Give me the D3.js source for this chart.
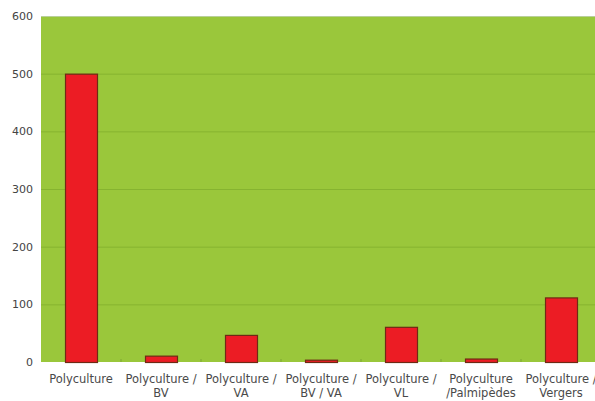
<!DOCTYPE html>
<html>
<head>
<meta charset="utf-8">
<script src="https://cdn.jsdelivr.net/npm/d3@7"></script>
<style>
  body { margin: 0; background: #fff; }
  .tick text { font-family: "DejaVu Sans", Verdana, sans-serif; fill: #444; }
</style>
</head>
<body>
<svg id="chart" width="595" height="401"></svg>
<script>
const categories = [
    ["Polyculture"],
    ["Polyculture /", "BV"],
    ["Polyculture /", "VA"],
    ["Polyculture /", "BV / VA"],
    ["Polyculture /", "VL"],
    ["Polyculture", "/Palmipèdes"],
    ["Polyculture /", "Vergers"]
];
const values = [500, 11, 47, 4, 61, 6, 112];
const yTicks = [0, 100, 200, 300, 400, 500, 600];

const margin = {top: 16, left: 41};
const width = 560, height = 346;

const svg = d3.select("#chart");
const g = svg.append("g").attr("transform", "translate(" + margin.left + "," + margin.top + ")");

const x = d3.scaleBand().domain(d3.range(categories.length)).range([0, width]).paddingInner(0.6).paddingOuter(0.3);
const xb = d3.scaleBand().domain(d3.range(categories.length)).range([0, width]);
const y = d3.scaleLinear().domain([0, 600]).range([height, 0]);

// plot background
g.append("rect")
    .attr("width", width)
    .attr("height", height)
    .attr("fill", "#9ac73b");

// horizontal grid
g.selectAll(".grid")
    .data(yTicks.slice(1))
    .enter().append("line")
    .attr("x1", 0).attr("x2", width)
    .attr("y1", d => y(d) + 0.5).attr("y2", d => y(d) + 0.5)
    .attr("stroke", "#86b330")
    .attr("stroke-width", 1);

// top edge shade
g.append("line")
    .attr("x1", 0).attr("x2", width)
    .attr("y1", 0.5).attr("y2", 0.5)
    .attr("stroke", "#b9cf9a");

// category boundary ticks
g.selectAll(".ctick")
    .data(d3.range(1, categories.length))
    .enter().append("line")
    .attr("x1", d => xb(d)).attr("x2", d => xb(d))
    .attr("y1", height - 3).attr("y2", height)
    .attr("stroke", "#7fa637");

// bars
g.selectAll(".bar")
    .data(values)
    .enter().append("rect")
    .attr("x", (d, i) => x(i) + 0.5)
    .attr("y", d => y(d) + 0.5)
    .attr("width", x.bandwidth())
    .attr("height", d => height - y(d))
    .attr("fill", "#ec1c24")
    .attr("stroke", "#6e2a14")
    .attr("stroke-width", 1.2);

// y axis
const yAxis = g.append("g")
    .call(d3.axisLeft(y).tickValues(yTicks).tickSize(0).tickPadding(8));
yAxis.select(".domain").remove();
yAxis.selectAll("text").style("font-size", "11px");

// x axis labels
const xAxis = g.append("g")
    .attr("transform", "translate(0," + height + ")");
const lab = xAxis.selectAll(".xl")
    .data(categories)
    .enter().append("text")
    .attr("class", "xl")
    .attr("x", (d, i) => xb(i) + xb.bandwidth() / 2)
    .attr("y", 21)
    .attr("text-anchor", "middle")
    .style("font-family", "'DejaVu Sans', Verdana, sans-serif")
    .style("font-size", "11.5px")
    .attr("fill", "#4a4a4a");
lab.selectAll("tspan")
    .data(d => d)
    .enter().append("tspan")
    .attr("x", function () { return d3.select(this.parentNode).attr("x"); })
    .attr("dy", (d, i) => i === 0 ? 0 : 14)
    .text(d => d);
</script>
</body>
</html>
